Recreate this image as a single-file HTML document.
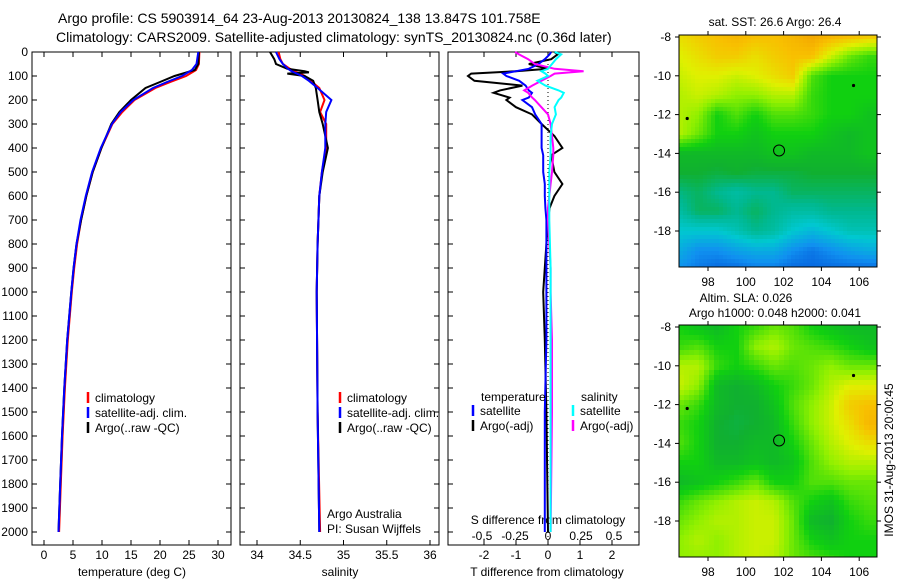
<!DOCTYPE html>
<html><head><meta charset="utf-8"><style>
html,body{margin:0;padding:0;background:#fff;}
svg{display:block;font-family:"Liberation Sans",sans-serif;}
</style></head><body>
<svg id="s" width="900" height="580" viewBox="0 0 900 580" xmlns="http://www.w3.org/2000/svg">
<text x="58" y="23" font-size="14">Argo profile: CS 5903914_64 23-Aug-2013 20130824_138 13.847S 101.758E</text>
<text x="56" y="42" font-size="14">Climatology: CARS2009. Satellite-adjusted climatology: synTS_20130824.nc (0.36d later)</text>
<g id="g"></g>
</svg>
<script>
// ---------- data ----------
const tDepth=[0,50,75,100,125,150,200,250,300,400,500,600,700,800,900,1000,1200,1400,1600,1800,2000];
const tClim=[26.8,26.7,26.2,24.5,21.8,19.2,15.6,13.5,11.8,9.9,8.4,7.3,6.4,5.7,5.2,4.8,4.1,3.6,3.2,2.9,2.6];
const tSat=[26.6,26.3,25.5,23.8,21.2,18.8,15.4,13.2,11.7,9.8,8.3,7.2,6.3,5.6,5.1,4.7,4.0,3.5,3.1,2.8,2.5];
const tArgo=[26.7,26.6,26.0,22.5,20.0,17.5,15.0,13.0,11.6,9.9,8.4,7.3,6.4,5.6,5.1,4.7,4.0,3.5,3.1,2.8,2.5];
const sDepth=[0,30,50,70,80,85,90,100,120,150,200,250,300,400,500,600,800,1000,1500,2000];
const sClim=[34.25,34.27,34.3,34.38,34.43,34.46,34.5,34.55,34.62,34.72,34.78,34.73,34.8,34.8,34.75,34.72,34.7,34.69,34.7,34.73];
const sSat=[34.22,34.26,34.3,34.36,34.4,34.43,34.46,34.52,34.6,34.7,34.86,34.8,34.79,34.79,34.75,34.72,34.7,34.69,34.7,34.72];
const sArgo=[34.15,34.2,34.22,34.35,34.55,34.6,34.35,34.55,34.65,34.68,34.7,34.72,34.76,34.82,34.76,34.72,34.7,34.69,34.7,34.72];
const dDepth=[0,10,30,50,70,80,90,100,120,140,160,170,190,200,230,260,300,350,400,430,500,550,600,650,700,900,1000,1200,1500,2000];
const dTSat=[0.1,0.05,-0.1,-0.3,-0.6,-1.0,-1.4,-1.3,-0.9,-0.7,-0.6,-0.5,-0.6,-0.8,-0.5,-0.4,-0.2,-0.2,-0.2,-0.15,-0.15,-0.1,-0.1,-0.08,-0.05,-0.05,-0.05,-0.05,-0.1,-0.1];
const dTArgo=[0.2,0.3,0.1,-0.6,0.0,-1.0,-2.4,-2.5,-2.3,-0.8,-1.5,-1.7,-1.2,-1.3,-1.0,-0.5,-0.2,0.2,0.45,0.1,0.2,0.45,0.2,0.05,0.0,-0.1,-0.15,-0.1,-0.05,0.0];
const dSSat=[0.05,0.1,0.06,0.03,0.0,-0.05,-0.02,0.0,-0.08,-0.02,0.08,0.12,0.1,0.08,0.05,0.06,0.03,0.02,0.02,0.02,0.01,0.01,0.01,0.01,0.01,0.02,0.02,0.02,0.02,0.02];
const dSArgo=[-0.25,-0.22,-0.15,-0.1,0.05,0.27,0.05,0.02,-0.05,-0.12,-0.18,-0.15,-0.12,-0.1,-0.05,0.0,0.02,0.03,0.04,0.04,0.03,0.02,0.01,0.0,0.0,0.02,0.02,0.03,0.03,0.02];
const depthTicks=[0,100,200,300,400,500,600,700,800,900,1000,1100,1200,1300,1400,1500,1600,1700,1800,1900,2000];
const tempTicks=[0,5,10,15,20,25,30];
const salTicks=[34,34.5,35,35.5,36];
const tdTicks=[-2,-1,0,1,2];
const sdTicks=[-0.5,-0.25,0,0.25,0.5];
const lonTicks=[98,100,102,104,106];
const latTicks=[-8,-10,-12,-14,-16,-18];
const gridLons=[96.5,97.5,98.5,99.5,100.5,101.5,102.5,103.5,104.5,105.5,106.5];
const gridLats=[-8,-9,-10,-11,-12,-13,-14,-15,-16,-17,-18,-19,-20];
const sstGrid=[
[0.75,0.78,0.8,0.82,0.8,0.8,0.82,0.85,0.82,0.8,0.78],
[0.72,0.75,0.78,0.78,0.75,0.78,0.8,0.8,0.7,0.62,0.58],
[0.7,0.72,0.72,0.7,0.72,0.75,0.78,0.6,0.55,0.55,0.55],
[0.68,0.7,0.68,0.65,0.65,0.68,0.68,0.58,0.55,0.55,0.55],
[0.68,0.65,0.55,0.6,0.55,0.6,0.6,0.58,0.55,0.55,0.52],
[0.68,0.62,0.55,0.55,0.52,0.55,0.55,0.55,0.52,0.5,0.52],
[0.5,0.5,0.5,0.5,0.5,0.52,0.52,0.5,0.5,0.5,0.52],
[0.48,0.48,0.47,0.48,0.47,0.47,0.47,0.48,0.48,0.48,0.48],
[0.43,0.45,0.42,0.4,0.42,0.42,0.45,0.45,0.45,0.45,0.45],
[0.4,0.45,0.45,0.42,0.45,0.42,0.4,0.4,0.42,0.42,0.42],
[0.35,0.35,0.35,0.38,0.42,0.4,0.35,0.32,0.35,0.38,0.38],
[0.3,0.25,0.25,0.28,0.3,0.3,0.25,0.22,0.25,0.28,0.3],
[0.25,0.22,0.2,0.2,0.22,0.22,0.2,0.2,0.2,0.2,0.2]];
const slaGrid=[
[0.55,0.52,0.5,0.55,0.58,0.62,0.6,0.55,0.52,0.5,0.5],
[0.58,0.6,0.55,0.55,0.65,0.68,0.62,0.6,0.58,0.55,0.52],
[0.68,0.68,0.58,0.55,0.58,0.62,0.6,0.62,0.65,0.62,0.62],
[0.7,0.65,0.5,0.48,0.5,0.55,0.58,0.62,0.68,0.72,0.72],
[0.62,0.58,0.5,0.48,0.48,0.52,0.6,0.65,0.7,0.78,0.8],
[0.58,0.55,0.48,0.47,0.48,0.5,0.58,0.65,0.7,0.75,0.82],
[0.6,0.55,0.48,0.48,0.5,0.5,0.55,0.62,0.68,0.72,0.75],
[0.55,0.55,0.5,0.5,0.52,0.5,0.52,0.6,0.65,0.68,0.68],
[0.5,0.52,0.55,0.58,0.62,0.55,0.55,0.6,0.6,0.62,0.62],
[0.58,0.62,0.65,0.68,0.7,0.68,0.6,0.55,0.52,0.58,0.6],
[0.62,0.65,0.68,0.68,0.7,0.7,0.62,0.5,0.48,0.55,0.58],
[0.65,0.68,0.65,0.68,0.7,0.7,0.62,0.55,0.52,0.55,0.55],
[0.65,0.65,0.65,0.68,0.7,0.68,0.62,0.6,0.58,0.55,0.55]];

// ---------- drawing ----------
const NS="http://www.w3.org/2000/svg";
const G=document.getElementById('g');
function el(tag,attrs,parent){const e=document.createElementNS(NS,tag);for(const k in attrs)e.setAttribute(k,attrs[k]);(parent||G).appendChild(e);return e;}
function txt(x,y,s,anchor,size,name){const t=el('text',{x:x,y:y,'font-size':size||12,'text-anchor':anchor||'start'});t.textContent=s;


return t;}
const Y0=52,PXM=0.24;
function yD(d){return Y0+d*PXM;}
const xT=v=>44+v*5.8, xS=v=>257+(v-34)*86.5, xTD=v=>548+v*32, xSD=v=>548+v*132;
const panels=[[32,231],[240,439],[448,639]];
panels.forEach((p,i)=>{
 const r=el('rect',{x:p[0],y:Y0,width:p[1]-p[0],height:545-Y0,fill:'none',stroke:'#000','stroke-width':1});
 
 
 depthTicks.forEach(d=>{el('line',{x1:p[0],x2:p[0]+5,y1:yD(d),y2:yD(d),stroke:'#000'});el('line',{x1:p[1]-5,x2:p[1],y1:yD(d),y2:yD(d),stroke:'#000'});});
});
depthTicks.forEach(d=>txt(28,yD(d)+4,String(d),'end',12,'depth-tick-label'));
function xticks(arr,fx,p,lab,yl,name){arr.forEach(v=>{const x=fx(v);el('line',{x1:x,x2:x,y1:545,y2:540,stroke:'#000'});el('line',{x1:x,x2:x,y1:Y0,y2:Y0+5,stroke:'#000'});if(lab)txt(x,yl,String(v),'middle',12,name);});}
xticks(tempTicks,xT,panels[0],true,559,'temp-tick-label');
xticks(salTicks,xS,panels[1],true,559,'salinity-tick-label');
xticks(tdTicks,xTD,panels[2],true,559,'tdiff-tick-label');
sdTicks.forEach(v=>txt(xSD(v),540,String(v),'middle',12,'sdiff-tick-label'));
txt(132,576,'temperature (deg C)','middle',12,'x-axis-title-temperature');
txt(340,576,'salinity','middle',12,'x-axis-title-salinity');
txt(547,576,'T difference from climatology','middle',12,'x-axis-title-tdiff');
txt(548,524,'S difference from climatology','middle',12,'sdiff-axis-title');
el('line',{x1:548,x2:548,y1:Y0,y2:545,stroke:'#000','stroke-dasharray':'1,3'});
function line(xs,ds,fx,color,name){const pts=xs.map((v,i)=>fx(v).toFixed(1)+','+yD(ds[i]).toFixed(1)).join(' ');
 const pl=el('polyline',{points:pts,fill:'none',stroke:color,'stroke-width':2});
 
 }
line(tClim,tDepth,xT,'#f00','temp-climatology-line');
line(tArgo,tDepth,xT,'#000','temp-argo-line');
line(tSat,tDepth,xT,'#00f','temp-satellite-line');
line(sClim,sDepth,xS,'#f00','salinity-climatology-line');
line(sArgo,sDepth,xS,'#000','salinity-argo-line');
line(sSat,sDepth,xS,'#00f','salinity-satellite-line');
line(dTArgo,dDepth,xTD,'#000','tdiff-argo-line');
line(dTSat,dDepth,xTD,'#00f','tdiff-satellite-line');
line(dSArgo,dDepth,xSD,'#f0f','sdiff-argo-line');
line(dSSat,dDepth,xSD,'#0ff','sdiff-satellite-line');
function leg(x,y,c,s,name){el('line',{x1:x,x2:x,y1:y-10,y2:y+1,stroke:c,'stroke-width':2.5});txt(x+7,y,s,'start',12,name);}
leg(88,402,'#f00','climatology','legend-climatology');
leg(88,417,'#00f','satellite-adj. clim.','legend-satellite');
leg(88,432,'#000','Argo(..raw -QC)','legend-argo');
leg(340,402,'#f00','climatology','legend-climatology-2');
leg(340,417,'#00f','satellite-adj. clim.','legend-satellite-2');
leg(340,432,'#000','Argo(..raw -QC)','legend-argo-2');
txt(481,401,'temperature','start',12,'legend-temperature-heading');
txt(581,401,'salinity','start',12,'legend-salinity-heading');
leg(473,415,'#00f','satellite','legend-t-satellite');
leg(473,430,'#000','Argo(-adj)','legend-t-argo');
leg(573,415,'#0ff','satellite','legend-s-satellite');
leg(573,430,'#f0f','Argo(-adj)','legend-s-argo');
txt(327,518,'Argo Australia','start',12,'credit-argo-australia');
txt(327,533,'PI: Susan Wijffels','start',12,'credit-pi');

// ---------- maps ----------
const stops=[[0.15,[0,64,208]],[0.25,[16,144,240]],[0.35,[0,200,208]],[0.42,[0,184,144]],[0.48,[16,176,48]],[0.55,[16,208,16]],[0.65,[144,240,0]],[0.72,[224,240,0]],[0.8,[248,192,0]],[0.9,[240,144,0]]];
function cmap(v){if(v<=stops[0][0])return stops[0][1];for(let i=1;i<stops.length;i++){if(v<=stops[i][0]){const a=stops[i-1],b=stops[i],t=(v-a[0])/(b[0]-a[0]);return a[1].map((c,k)=>Math.round(c+(b[1][k]-c)*t));}}return stops[stops.length-1][1];}
function sample(grid,lon,lat){let fi=(-8-lat),fj=(lon-96.5);fi=Math.max(0,Math.min(gridLats.length-1.001,fi));fj=Math.max(0,Math.min(gridLons.length-1.001,fj));
 const i=Math.floor(fi),j=Math.floor(fj),a=fi-i,b=fj-j;
 return grid[i][j]*(1-a)*(1-b)+grid[i+1][j]*a*(1-b)+grid[i][j+1]*(1-a)*b+grid[i+1][j+1]*a*b;}
const mlon=v=>708+(v-98)*18.9;
function drawMap(top,grid,name,cell){
 const mlat=v=>top+2+(-8-v)*19.4;
 const grp=el('g',{});
 
 
 for(let y=top;y<top+232;y+=cell){for(let x=679;x<877;x+=cell){
   const lon=98+(x+cell/2-708)/18.9, lat=-8-(y+cell/2-top-2)/19.4;
   const c=cmap(sample(grid,lon,lat));
   el('rect',{x:x,y:y,width:Math.min(cell,877-x),height:Math.min(cell,top+232-y),fill:'rgb('+c.join(',')+')'},grp);}}
 el('rect',{x:679,y:top,width:198,height:232,fill:'none',stroke:'#000'});
 lonTicks.forEach(v=>{const x=mlon(v);el('line',{x1:x,x2:x,y1:top,y2:top-4,stroke:'#000'});el('line',{x1:x,x2:x,y1:top+232,y2:top+236,stroke:'#000'});txt(x,top+251,String(v),'middle',12,'map-lon-tick');});
 latTicks.forEach(v=>{const y=mlat(v);el('line',{x1:679,x2:675,y1:y,y2:y,stroke:'#000'});el('line',{x1:877,x2:881,y1:y,y2:y,stroke:'#000'});txt(671,y+4,String(v),'end',12,'map-lat-tick');});
 el('circle',{cx:mlon(101.76),cy:mlat(-13.85),r:5.5,fill:'none',stroke:'#000'});
 el('circle',{cx:mlon(105.7),cy:mlat(-10.5),r:1.6,fill:'#000'});
 el('circle',{cx:mlon(96.9),cy:mlat(-12.2),r:1.6,fill:'#000'});
}
drawMap(35,sstGrid,'sst-map',4);
drawMap(325,slaGrid,'sla-map',5);
txt(775,26,'sat. SST: 26.6 Argo: 26.4','middle',12,'sst-map-title');
txt(746,302,'Altim. SLA: 0.026','middle',12,'sla-map-title');
txt(775,317,'Argo h1000: 0.048 h2000: 0.041','middle',12,'sla-map-subtitle');
const v=txt(0,0,'IMOS 31-Aug-2013 20:00:45','middle',12,'imos-timestamp');
v.setAttribute('transform','translate(893,460) rotate(-90)');
</script>
</body></html>
